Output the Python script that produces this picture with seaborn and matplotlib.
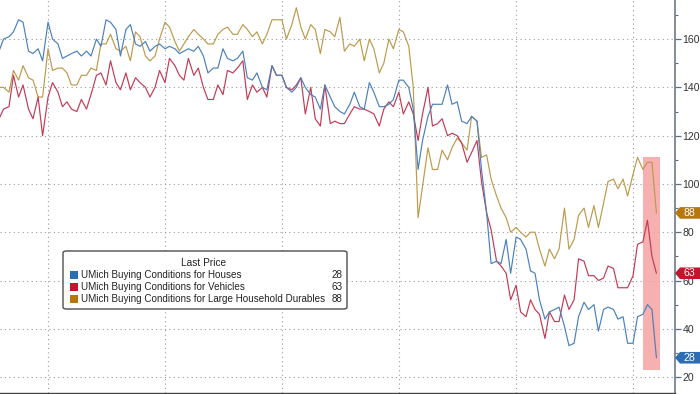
import pandas as pd
import seaborn as sns
import matplotlib.pyplot as plt
import matplotlib.dates as mdates
from matplotlib.ticker import MultipleLocator
from matplotlib.patches import Rectangle, FancyBboxPatch, Polygon

# semi-monthly readings (preliminary + final)
dates = pd.date_range("2016-08-01", periods=136, freq="SMS")

houses = [155, 160, 161, 163, 168, 167, 155, 154, 156, 151, 167, 160, 158, 152, 153,
          154, 155, 153, 155, 153, 160, 157, 168, 167, 164, 153, 164, 166, 158, 157,
          159, 155, 157, 158, 156, 157, 156, 154, 155, 156, 155, 157, 153, 146, 148,
          148, 156, 152, 151, 152, 155, 144, 143,
          146, 140, 139, 149, 145, 145, 140, 138, 140, 144, 140, 137, 136, 131, 141,
          136, 132, 130, 129, 133, 138, 132, 131, 142, 138, 132, 132, 133, 135, 143,
          143, 140, 131,
          106, 118, 128, 133, 133, 133, 141, 133, 134, 126, 125, 128, 126, 106, 88,
          67, 68, 67, 77, 63, 78, 77, 73, 64, 63, 52, 44, 47, 48, 49, 41, 33, 34,
          45, 51, 48, 50, 39, 48, 49, 48, 44, 45, 34, 34, 45, 46, 50, 48, 28]

vehicles = [127, 131, 132, 145, 136, 141, 131, 127, 136, 120, 136, 142, 138, 132, 134,
            131, 130, 135, 131, 137, 145, 146, 141, 151, 142, 139, 146, 139, 144, 142,
            140, 136, 140, 147, 142, 152, 149, 145, 143, 152, 145, 148, 140, 135, 135,
            141, 137, 147, 146, 148, 151, 135, 141,
            138, 140, 136, 149, 145, 145, 140, 139, 141, 144, 129, 140, 127, 124, 141,
            125, 126, 125, 125, 129, 132, 131, 131, 130, 129, 124, 131, 134, 132, 138,
            129, 134, 129,
            118, 129, 140, 124, 125, 127, 120, 121, 120, 117, 109, 113, 118, 101, 88,
            81, 68, 66, 63, 52, 58, 47, 45, 52, 48, 46, 36, 47, 43, 43, 54, 48, 52,
            69, 68, 62, 62, 60, 61, 66, 65, 57, 57, 57, 62, 75, 76, 85, 70, 63]

durables = [140, 140, 138, 147, 143, 149, 144, 143, 136, 136, 156, 147, 148, 148, 146,
            141, 141, 145, 145, 148, 147, 158, 158, 162, 156, 155, 157, 151, 163, 161,
            153, 151, 153, 160, 167, 165, 159, 155, 158, 161, 164, 162, 160, 158, 158,
            162, 164, 165, 162,
            162, 166, 164, 161, 163, 158, 162, 168, 168, 168, 160, 166, 173, 165, 160,
            166, 164, 154, 164, 163, 161, 169, 155, 158, 157, 160, 151, 160, 156, 146,
            150, 160, 156, 164, 163, 157, 140,
            86, 99, 115, 106, 106, 114, 110, 115, 119, 117, 114, 128, 126, 111, 112,
            102, 95, 90, 86,
            80, 82, 80, 78, 80, 80, 73, 66, 73, 69, 73, 90, 73, 77, 87, 90, 82, 91,
            82, 92,
            101, 102, 98, 102, 95, 104, 111, 106, 109, 109, 88]

names = ["UMich Buying Conditions for Houses",
         "UMich Buying Conditions for Vehicles",
         "UMich Buying Conditions for Large Household Durables"]
series = [houses, vehicles, durables]
line_colors = ["#4a80bb", "#c23a55", "#bb9a4c"]
tag_colors = ["#2c6db3", "#c4142e", "#b8760f"]
yticks = [20, 40, 60, 80, 100, 120, 140, 160]
highlight_lo, highlight_hi = 23, 111

sns.set_style("white")
plt.rcParams["font.family"] = ["Liberation Sans", "DejaVu Sans"]

df = pd.DataFrame({"date": dates, names[0]: houses, names[1]: vehicles, names[2]: durables})
long_df = df.melt(id_vars="date", var_name="series", value_name="value")

W, H = 700, 394
fig = plt.figure(figsize=(W / 100, H / 100), dpi=100)
ax = fig.add_axes([0, 1 / H, 675 / W, 1 - 1 / H])

sns.lineplot(data=long_df, x="date", y="value", hue="series",
             hue_order=names[::-1], palette=dict(zip(names, line_colors)),
             linewidth=0.85, legend=False, ax=ax, zorder=3)

ax.set_xlim(pd.Timestamp("2016-08-04"), pd.Timestamp("2022-05-12"))
ax.set_ylim(13.4, 176.2)

# highlight box around the latest readings
x0 = mdates.date2num(dates[-4])
x1 = mdates.date2num(dates[-1] + pd.Timedelta(days=12))
ax.add_patch(Rectangle((x0, highlight_lo), x1 - x0, highlight_hi - highlight_lo,
                       facecolor="#f5a3a3", edgecolor="none", alpha=0.85, zorder=1))

ax.xaxis.set_major_locator(mdates.YearLocator())
ax.xaxis.set_minor_locator(mdates.MonthLocator(bymonth=7))
ax.yaxis.tick_right()
ax.set_yticks(yticks)
ax.yaxis.set_minor_locator(MultipleLocator(10))
ax.grid(True, which="major", color="#9a9a9a", linestyle=(0, (1, 3)), linewidth=0.8)
ax.tick_params(axis="y", which="major", direction="out", length=4, width=0.9,
               color="#5f6f80", labelsize=7.6, labelcolor="#333333", pad=1.5)
ax.tick_params(axis="y", which="minor", direction="out", length=2, width=0.8, color="#5f6f80")
ax.tick_params(axis="x", which="both", labelbottom=False, direction="out",
               length=3, width=0.8, color="#444444")
ax.set_xlabel("")
ax.set_ylabel("")
for side in ["left", "top"]:
    ax.spines[side].set_visible(False)
ax.spines["right"].set_color("#6a7b8c")
ax.spines["right"].set_linewidth(1.2)
ax.spines["bottom"].set_color("#444444")
ax.spines["bottom"].set_linewidth(1.0)

# legend box
fig.add_artist(FancyBboxPatch((63 / W, 1 - 309 / H), 284 / W, 58 / H,
                              boxstyle="round,pad=0,rounding_size=0.005",
                              transform=fig.transFigure, facecolor="white",
                              edgecolor="#4d4d4d", linewidth=1.0, zorder=5))
fig.text(204 / W, 1 - 263 / H, "Last Price", ha="center", va="center",
         fontsize=7.3, color="#222222", zorder=6)
for k, (name, vals, c) in enumerate(zip(names, series, tag_colors)):
    yy = 275 + 12 * k
    fig.add_artist(Rectangle((70 / W, 1 - (yy + 4) / H), 8 / W, 8 / H,
                             transform=fig.transFigure, facecolor=c,
                             edgecolor="none", zorder=6))
    fig.text(81 / W, 1 - yy / H, name, ha="left", va="center", fontsize=7.1,
             color="#222222", zorder=6)
    fig.text(342 / W, 1 - yy / H, f"{vals[-1]:.0f}", ha="right", va="center",
             fontsize=7.1, color="#222222", zorder=6)

# last value tags on the right axis (they sit over the tick labels, as in Bloomberg charts)
xlast = mdates.date2num(dates[-1])
for vals, c in zip(series, tag_colors):
    yf = ax.transData.transform((xlast, vals[-1]))[1] / H
    h = 5.8 / H
    pts = [(675 / W, yf), (680 / W, yf + h), (1.0, yf + h), (1.0, yf - h), (680 / W, yf - h)]
    fig.add_artist(Polygon(pts, closed=True, transform=fig.transFigure,
                           facecolor=c, edgecolor="none", zorder=6))
    fig.text(689 / W, yf, f"{vals[-1]:.0f}", ha="center", va="center",
             fontsize=7.6, color="white", zorder=7)

fig.savefig("out.png", dpi=100)
